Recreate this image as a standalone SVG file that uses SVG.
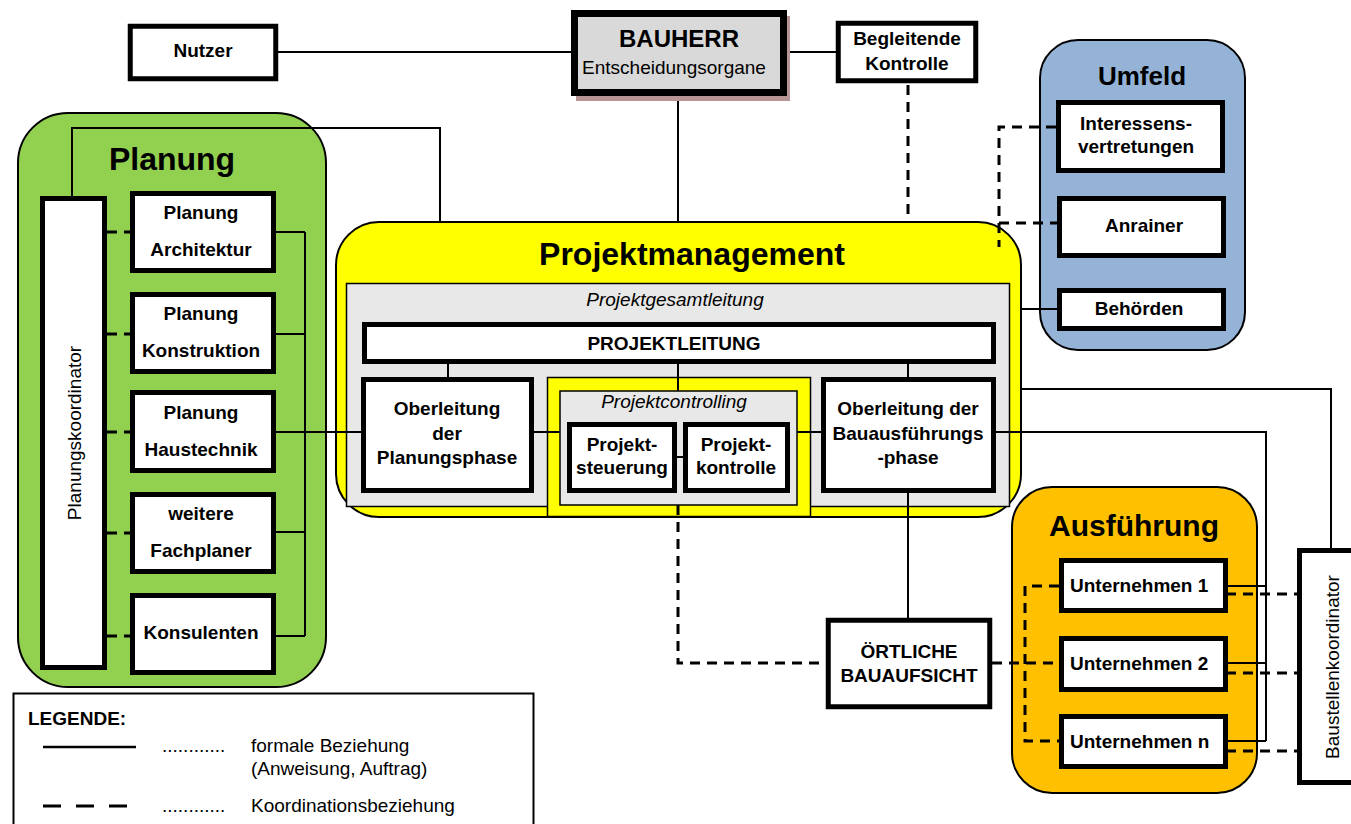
<svg xmlns="http://www.w3.org/2000/svg" width="1351" height="824" viewBox="0 0 1351 824">
<style>
text{font-family:"Liberation Sans",Arial,sans-serif;font-size:19px;fill:#000}
.b{font-weight:bold}
.c{text-anchor:middle}
.i{font-style:italic}
.box{fill:#fff;stroke:#000;stroke-width:5}
.ln{fill:none;stroke:#000;stroke-width:2}
.ds{fill:none;stroke:#000;stroke-width:3;stroke-dasharray:10,7}
.cont{stroke:#000;stroke-width:2}
</style>
<rect width="1351" height="824" fill="#fff"/>

<!-- containers -->
<g id="planung">
<rect class="cont" x="18" y="113" width="308" height="574" rx="50" fill="#92d050"/>
<text class="b c" x="172" y="170" style="font-size:32px">Planung</text>
</g>
<g id="projektmanagement">
<rect class="cont" x="336" y="222" width="685" height="295" rx="43" fill="#ffff00"/>
<text class="b c" x="692" y="265" style="font-size:32px">Projektmanagement</text>
<rect x="346.5" y="283.5" width="663" height="223" fill="#e8e8e8" stroke="#000" stroke-width="1.5"/>
<rect x="547.5" y="377.5" width="263" height="139" fill="#ffff00" stroke="#000" stroke-width="1.5"/>
<text class="i c" x="675" y="306">Projektgesamtleitung</text>
</g>
<g id="projektcontrolling">
<rect x="560" y="391" width="237" height="114" fill="#e8e8e8" stroke="#000" stroke-width="1.5"/>
<text class="i c" x="674" y="408">Projektcontrolling</text>
</g>
<g id="umfeld">
<rect class="cont" x="1040" y="40" width="205" height="310" rx="38" fill="#95b3d7"/>
<text class="b c" x="1142" y="85" style="font-size:26px">Umfeld</text>
</g>
<g id="ausfuehrung">
<rect class="cont" x="1012" y="487" width="245" height="306" rx="40" fill="#ffc000"/>
<text class="b c" x="1134" y="536" style="font-size:30px">Ausführung</text>
</g>

<!-- connectors -->
<g id="connectors">
<path class="ln" d="M278,52H571M787,52H836M678,96V222"/>
<path class="ln" d="M72,196V128H440V222"/>
<path class="ln" d="M305,232V636M276,232H305M276,334H305M276,532H305M276,636H305M276,432H362"/>
<path class="ln" d="M532,432H560M797,432H822M995,432H1266V741M1228,586H1266M1228,663H1266M1228,741H1266"/>
<path class="ln" d="M448,363V377M678,363V391M908,363V377M677,457H684"/>
<path class="ln" d="M908,492V618"/>
<path class="ln" d="M1021,309H1057"/>
<path class="ln" d="M1021,389H1331V548"/>
<path class="ds" d="M908,85V222"/>
<path class="ds" d="M1056,127H999V247M999,223H1057"/>
<path class="ds" d="M107,232H130M107,334H130M107,432H130M107,533H130M107,636H130"/>
<path class="ds" d="M678,505V663H826"/>
<path class="ds" d="M992,663H1059"/>
<path class="ds" d="M1059,586H1025V741H1059"/>
<path class="ds" d="M1226,594H1297M1226,673H1297M1226,751H1297"/>
</g>

<!-- nodes -->
<g id="nutzer">
<rect class="box" x="130.25" y="26.25" width="145.5" height="52.5" stroke-width="4.5"/>
<text class="b c" x="203" y="57">Nutzer</text>
</g>
<g id="bauherr">
<rect x="576" y="16" width="214" height="85" fill="#b89595"/>
<rect x="574.5" y="13.5" width="209" height="79" fill="#d9d9d9" stroke="#000" stroke-width="7"/>
<text class="b c" x="679" y="47" style="font-size:24px">BAUHERR</text>
<text class="c" x="674" y="74">Entscheidungsorgane</text>
</g>
<g id="begleitende">
<rect class="box" x="838.25" y="23.25" width="137.5" height="57.5" stroke-width="4.5"/>
<text class="b c" x="907" y="45">Begleitende</text>
<text class="b c" x="907" y="70">Kontrolle</text>
</g>
<g id="interessensvertretungen">
<rect class="box" x="1058.5" y="102.5" width="164" height="68"/>
<text class="b c" x="1136" y="130">Interessens-</text>
<text class="b c" x="1136" y="153">vertretungen</text>
</g>
<g id="anrainer">
<rect class="box" x="1059.5" y="198.5" width="164" height="57"/>
<text class="b c" x="1144" y="232">Anrainer</text>
</g>
<g id="behoerden">
<rect class="box" x="1059.5" y="290.5" width="164" height="38"/>
<text class="b c" x="1139" y="315">Behörden</text>
</g>
<g id="planungskoordinator">
<rect class="box" x="42.5" y="198.5" width="62" height="469"/>
<text class="c" transform="translate(81,433) rotate(-90)">Planungskoordinator</text>
</g>
<g id="planung-architektur">
<rect class="box" x="132.5" y="193.5" width="141" height="77"/>
<text class="b c" x="201" y="219">Planung</text>
<text class="b c" x="201" y="256">Architektur</text>
</g>
<g id="planung-konstruktion">
<rect class="box" x="132.5" y="294.5" width="141" height="77"/>
<text class="b c" x="201" y="320">Planung</text>
<text class="b c" x="201" y="357">Konstruktion</text>
</g>
<g id="planung-haustechnik">
<rect class="box" x="132.5" y="392.5" width="141" height="78"/>
<text class="b c" x="201" y="419">Planung</text>
<text class="b c" x="201" y="456">Haustechnik</text>
</g>
<g id="weitere-fachplaner">
<rect class="box" x="132.5" y="494.5" width="141" height="77"/>
<text class="b c" x="201" y="520">weitere</text>
<text class="b c" x="201" y="557">Fachplaner</text>
</g>
<g id="konsulenten">
<rect class="box" x="132.5" y="595.5" width="141" height="77"/>
<text class="b c" x="201" y="639">Konsulenten</text>
</g>
<g id="projektleitung">
<rect class="box" x="364.5" y="324.5" width="629" height="37" stroke-width="4.5"/>
<text class="b c" x="674" y="350">PROJEKTLEITUNG</text>
</g>
<g id="oberleitung-planungsphase">
<rect class="box" x="363.5" y="379.5" width="168" height="111"/>
<text class="b c" x="447" y="415">Oberleitung</text>
<text class="b c" x="447" y="440">der</text>
<text class="b c" x="447" y="464">Planungsphase</text>
</g>
<g id="oberleitung-bauausfuehrungsphase">
<rect class="box" x="823.5" y="379.5" width="170" height="111"/>
<text class="b c" x="908" y="415">Oberleitung der</text>
<text class="b c" x="908" y="440">Bauausführungs</text>
<text class="b c" x="908" y="464">-phase</text>
</g>
<g id="projektsteuerung">
<rect class="box" x="569.5" y="424.5" width="105" height="66"/>
<text class="b c" x="622" y="451">Projekt-</text>
<text class="b c" x="622" y="474">steuerung</text>
</g>
<g id="projektkontrolle">
<rect class="box" x="685.5" y="424.5" width="102" height="66"/>
<text class="b c" x="736" y="451">Projekt-</text>
<text class="b c" x="736" y="474">kontrolle</text>
</g>
<g id="oertliche-bauaufsicht">
<rect class="box" x="828.25" y="620.25" width="161.5" height="86.5" stroke-width="4.5"/>
<text class="b c" x="909" y="658">ÖRTLICHE</text>
<text class="b c" x="909" y="682">BAUAUFSICHT</text>
</g>
<g id="unternehmen-1">
<rect class="box" x="1061.5" y="560.5" width="164" height="50"/>
<text class="b" x="1070" y="592">Unternehmen 1</text>
</g>
<g id="unternehmen-2">
<rect class="box" x="1061.5" y="638.5" width="164" height="51"/>
<text class="b" x="1070" y="670">Unternehmen 2</text>
</g>
<g id="unternehmen-n">
<rect class="box" x="1061.5" y="716.5" width="164" height="50"/>
<text class="b" x="1070" y="748">Unternehmen n</text>
</g>
<g id="baustellenkoordinator">
<rect class="box" x="1299.5" y="550.5" width="60" height="232"/>
<text class="c" transform="translate(1339,667) rotate(-90)">Baustellenkoordinator</text>
</g>

<!-- legend -->
<g id="legende">
<rect x="13.5" y="693.5" width="520" height="140" fill="#fff" stroke="#000" stroke-width="2"/>
<text class="b" x="28" y="725">LEGENDE:</text>
<line x1="43" y1="747" x2="136" y2="747" stroke="#000" stroke-width="2.5"/>
<text x="162" y="752">............</text>
<text x="251" y="752">formale Beziehung</text>
<text x="251" y="775">(Anweisung, Auftrag)</text>
<line x1="43" y1="806" x2="136" y2="806" stroke="#000" stroke-width="3" stroke-dasharray="18,15"/>
<text x="162" y="812">............</text>
<text x="251" y="812">Koordinationsbeziehung</text>
</g>
</svg>
